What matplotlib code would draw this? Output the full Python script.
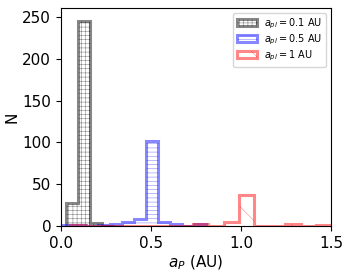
'''Histogram of planet semi-major axes for three a_pl runs.'''

import numpy as np
from matplotlib import pyplot as plt

plt.rcParams.update({'font.size': 11, 'hatch.linewidth': 0.4})

# bin edges and counts
edges01 = [0.027, 0.094, 0.161, 0.228, 0.295]
counts01 = [28, 245, 4, 0]

edges05 = [0.005 + 0.0667 * i for i in range(13)]
counts05 = [1, 1, 0, 1, 3, 5, 8, 102, 5, 3, 0, 2]

edges1 = [0.0485 + 0.0855 * i for i in range(18)]
counts1 = [1, 0, 0, 0, 0, 0, 0, 0, 3, 0, 5, 37, 0, 0, 2, 0, 1]

labels = [r'$a_{pl} = 0.1$ AU', r'$a_{pl} = 0.5$ AU', r'$a_{pl} = 1$ AU']


def plot_hist():
    fig = plt.figure(figsize=(3.5, 2.74), dpi=100)
    ax = fig.add_axes([0.174, 0.175, 0.772, 0.796])

    series = [(edges01, counts01, 'black', '++++'),
              (edges05, counts05, 'blue', '----'),
              (edges1, counts1, 'red', '\\')]
    for (e, c, col, hatch), lab in zip(series, labels):
        ax.hist(e[:-1], bins=e, weights=c, histtype='step', color=col,
                alpha=0.47, lw=2.2, hatch=hatch, label=lab)

    ax.set_xlim(0, 1.5)
    ax.set_ylim(0, 261)
    ax.set_xticks([0.0, 0.5, 1.0, 1.5])
    ax.set_yticks([0, 50, 100, 150, 200, 250])
    ax.set_xlabel(r'$a_P$ (AU)', labelpad=2)
    ax.set_ylabel('N', labelpad=2)
    ax.legend(loc='upper right', fontsize=7, labelspacing=0.15,
              handleheight=0.7)
    fig.savefig('out.png', dpi=fig.dpi)


if __name__ == "__main__":
    plot_hist()
